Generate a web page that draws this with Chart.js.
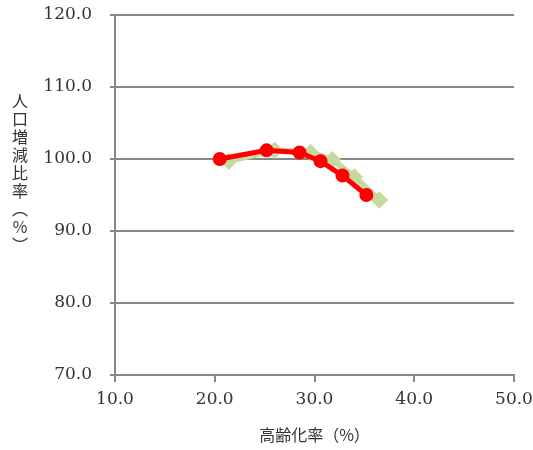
<!DOCTYPE html>
<html>
<head>
<meta charset="utf-8">
<script src="https://cdn.jsdelivr.net/npm/chart.js@4"></script>
<style>
  body { margin: 0; background: #fff; }
  #wrap { position: relative; width: 533px; height: 450px; }
  #ytitle {
    position: absolute; left: 10px; top: 93px;
    writing-mode: vertical-rl; font-family: "Noto Sans CJK JP"; font-size: 16px;
    color: #333; line-height: 20px; letter-spacing: 2px;
  }
</style>
</head>
<body>
<div id="wrap">
  <canvas id="chart" width="533" height="450"></canvas>
  <div id="ytitle">人口増減比率（％）</div>
</div>
<script>
// 赤：実績、緑：推計
const redX = [20.5, 25.2, 28.5, 30.6, 32.8, 35.2];
const redY = [100.0, 101.2, 100.9, 99.7, 97.7, 95.0];
const greenX = [21.4, 26.0, 29.6, 31.8, 34.0, 36.5];
const greenY = [99.7, 101.2, 100.9, 99.9, 97.5, 94.3];

const xTitle = '高齢化率（%）';
const xMin = 10, xMax = 50;
const yMin = 70, yMax = 120;

function toPoints(xs, ys) {
    return xs.map((x, i) => ({ x: x, y: ys[i] }));
}

const tickFont = { family: 'DejaVu Serif', size: 17 };

new Chart(document.getElementById('chart').getContext('2d'), {
    type: 'scatter',
    data: {
        datasets: [{
            data: toPoints(redX, redY),
            showLine: true,
            borderColor: '#ff0000',
            backgroundColor: '#ff0000',
            borderWidth: 5,
            pointRadius: 4.5,
            pointHoverRadius: 4.5,
            order: 1
        }, {
            data: toPoints(greenX, greenY),
            showLine: true,
            borderColor: '#c5d9a0',
            backgroundColor: '#c5d9a0',
            borderWidth: 6,
            pointStyle: 'rectRot',
            pointRadius: 4.5,
            order: 2
        }]
    },
    options: {
        responsive: false,
        animation: false,
        layout: { padding: { top: 15, right: 19, left: 0, bottom: 0 } },
        plugins: { legend: { display: false }, tooltip: { enabled: false } },
        scales: {
            x: {
                type: 'linear',
                min: xMin, max: xMax,
                afterFit: (s) => { s.height = 75; s.paddingLeft = 0; s.paddingRight = 0; },
                border: { color: '#888', width: 2 },
                grid: { drawOnChartArea: false, drawTicks: true, tickLength: 7, color: '#888', lineWidth: 2 },
                ticks: {
                    stepSize: 10, padding: 7, color: '#333', font: tickFont,
                    callback: (v) => v.toFixed(1)
                },
                title: {
                    display: true, text: xTitle, color: '#333',
                    font: { family: 'Noto Sans CJK JP', size: 16 },
                    padding: { top: 0, bottom: 5 }
                }
            },
            y: {
                min: yMin, max: yMax,
                afterFit: (s) => { s.width = 115; s.paddingTop = 0; s.paddingBottom = 0; },
                border: { color: '#888', width: 2 },
                grid: { drawTicks: true, tickLength: 5, color: '#888', lineWidth: 2 },
                ticks: {
                    stepSize: 10, padding: 18, color: '#333', font: tickFont,
                    callback: (v) => v.toFixed(1)
                }
            }
        }
    }
});
</script>
</body>
</html>
